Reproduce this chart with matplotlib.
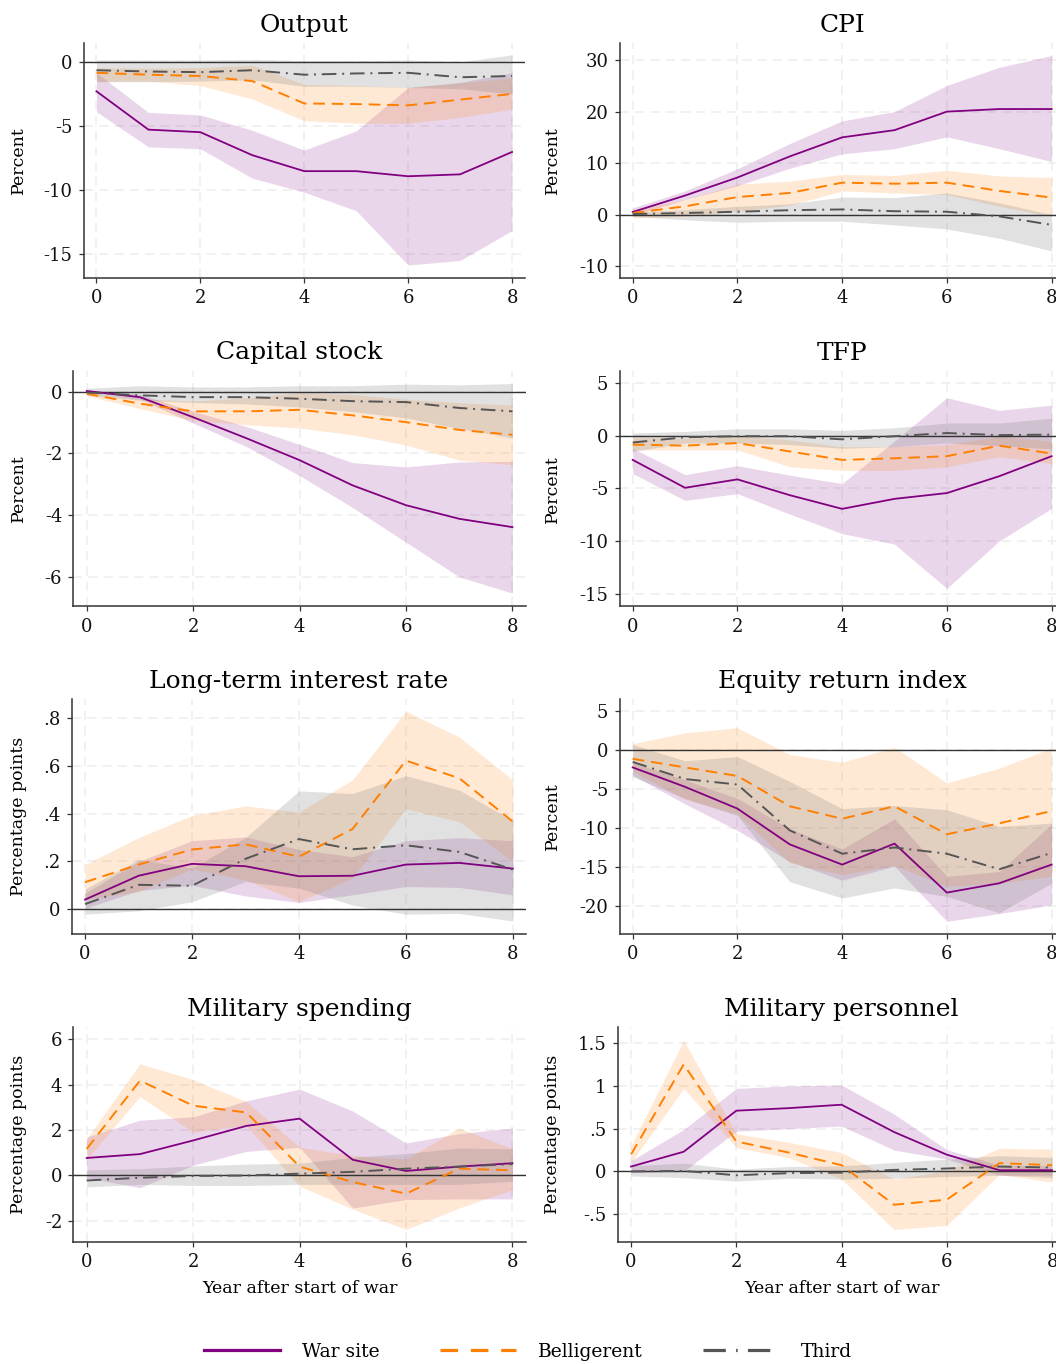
import numpy as np
import matplotlib.pyplot as plt
from matplotlib.lines import Line2D

plt.rcParams["font.family"] = ["DejaVu Serif"]

years = [0, 1, 2, 3, 4, 5, 6, 7, 8]
xticks = [0, 2, 4, 6, 8]
series_names = ["War site", "Belligerent", "Third"]

# Output
output_war = [-2.3, -5.3, -5.5, -7.3, -8.55, -8.55, -8.95, -8.8, -7.05]
output_war_hi = [-0.85, -3.95, -4.15, -5.35, -6.9, -5.4, -2.0, -1.6, -0.85]
output_war_lo = [-3.9, -6.65, -6.8, -9.1, -10.2, -11.65, -15.9, -15.55, -13.2]
output_bel = [-0.85, -1.0, -1.1, -1.5, -3.25, -3.3, -3.4, -2.95, -2.5]
output_bel_hi = [-0.45, -0.5, -0.45, -0.25, -1.75, -1.85, -2.0, -1.65, -1.25]
output_bel_lo = [-1.5, -1.5, -1.85, -2.9, -4.6, -4.8, -4.8, -4.35, -3.7]
output_third = [-0.65, -0.75, -0.8, -0.65, -1.0, -0.9, -0.85, -1.2, -1.1]
output_third_hi = [0.15, 0.15, 0.15, 0.2, 0.1, 0.1, 0.15, 0.0, 0.55]
output_third_lo = [-1.55, -1.55, -1.5, -1.4, -1.9, -1.9, -2.0, -2.1, -2.5]
output_yticks = [-15, -10, -5, 0]
output_yticklabels = ["-15", "-10", "-5", "0"]

# CPI
cpi_war = [0.5, 3.7, 7.2, 11.3, 15.0, 16.4, 20.0, 20.5, 20.5]
cpi_war_hi = [1.3, 4.6, 8.9, 13.8, 18.2, 20.0, 25.1, 28.6, 30.9]
cpi_war_lo = [-0.15, 2.9, 5.6, 9.0, 11.8, 12.8, 15.1, 12.8, 10.3]
cpi_bel = [0.3, 1.6, 3.4, 4.2, 6.2, 6.0, 6.2, 4.6, 3.3]
cpi_bel_hi = [0.95, 2.9, 5.9, 6.5, 7.8, 7.6, 8.6, 7.5, 7.2]
cpi_bel_lo = [-0.65, -0.35, 0.65, 1.8, 4.6, 4.2, 3.9, 1.6, -0.35]
cpi_third = [0.1, 0.3, 0.55, 0.85, 1.0, 0.65, 0.55, -0.35, -2.0]
cpi_third_hi = [0.45, 0.95, 1.6, 2.1, 3.4, 3.3, 4.2, 2.3, 0.0]
cpi_third_lo = [-0.35, -1.0, -1.5, -1.3, -1.3, -2.0, -2.8, -4.6, -7.05]
cpi_yticks = [-10, 0, 10, 20, 30]
cpi_yticklabels = ["-10", "0", "10", "20", "30"]

# Capital stock
capital_war = [0.02, -0.18, -0.83, -1.51, -2.22, -3.04, -3.68, -4.12, -4.39]
capital_war_hi = [0.04, -0.09, -0.64, -1.13, -1.71, -2.3, -2.44, -2.28, -2.26]
capital_war_lo = [-0.01, -0.25, -1.02, -1.78, -2.72, -3.76, -4.88, -6.0, -6.53]
capital_bel = [-0.07, -0.39, -0.64, -0.64, -0.59, -0.77, -0.99, -1.24, -1.4]
capital_bel_hi = [-0.03, -0.23, -0.31, -0.2, -0.03, -0.09, -0.25, -0.36, -0.44]
capital_bel_lo = [-0.14, -0.55, -0.94, -1.07, -1.18, -1.4, -1.73, -2.22, -2.37]
capital_third = [-0.03, -0.12, -0.18, -0.18, -0.23, -0.31, -0.34, -0.53, -0.64]
capital_third_hi = [0.11, 0.19, 0.15, 0.15, 0.19, 0.19, 0.24, 0.22, 0.26]
capital_third_lo = [-0.12, -0.28, -0.35, -0.4, -0.5, -0.65, -0.85, -1.2, -1.5]
capital_yticks = [-6, -4, -2, 0]
capital_yticklabels = ["-6", "-4", "-2", "0"]

# TFP
tfp_war = [-2.3, -4.95, -4.15, -5.65, -6.95, -6.0, -5.45, -3.85, -1.95]
tfp_war_hi = [-1.2, -3.7, -2.85, -3.75, -4.55, -0.5, 3.6, 2.4, 2.9]
tfp_war_lo = [-3.6, -6.15, -5.5, -7.45, -9.3, -10.3, -14.5, -10.0, -6.9]
tfp_bel = [-0.85, -0.95, -0.7, -1.5, -2.3, -2.15, -1.95, -0.95, -1.7]
tfp_bel_hi = [-0.15, -0.25, -0.05, -0.4, -1.05, -1.05, -0.85, -0.05, -0.55]
tfp_bel_lo = [-1.35, -1.35, -1.35, -2.95, -3.3, -3.3, -2.95, -2.0, -2.65]
tfp_third = [-0.65, -0.15, -0.05, -0.05, -0.35, -0.05, 0.25, 0.05, 0.1]
tfp_third_hi = [0.25, 0.4, 0.65, 0.65, 0.5, 0.75, 1.2, 1.2, 1.65]
tfp_third_lo = [-1.5, -0.7, -0.7, -0.85, -1.2, -1.05, -0.7, -0.95, -1.25]
tfp_yticks = [-15, -10, -5, 0, 5]
tfp_yticklabels = ["-15", "-10", "-5", "0", "5"]

# Long-term interest rate
rate_war = [0.04, 0.14, 0.19, 0.18, 0.138, 0.14, 0.187, 0.194, 0.17]
rate_war_hi = [0.067, 0.2, 0.287, 0.303, 0.25, 0.22, 0.287, 0.3, 0.287]
rate_war_lo = [0.003, 0.078, 0.1, 0.055, 0.028, 0.06, 0.095, 0.091, 0.06]
rate_bel = [0.113, 0.187, 0.25, 0.272, 0.22, 0.336, 0.623, 0.549, 0.367]
rate_bel_hi = [0.187, 0.3, 0.393, 0.433, 0.407, 0.542, 0.83, 0.722, 0.542]
rate_bel_lo = [0.041, 0.074, 0.169, 0.123, 0.031, 0.13, 0.421, 0.367, 0.199]
rate_third = [0.021, 0.102, 0.098, 0.211, 0.294, 0.251, 0.268, 0.24, 0.166]
rate_third_hi = [0.084, 0.208, 0.173, 0.3, 0.496, 0.485, 0.56, 0.499, 0.372]
rate_third_lo = [-0.021, -0.007, 0.031, 0.116, 0.088, 0.017, -0.021, -0.018, -0.05]
rate_yticks = [0, 0.2, 0.4, 0.6, 0.8]
rate_yticklabels = ["0", ".2", ".4", ".6", ".8"]

# Equity return index
equity_war = [-2.2, -4.7, -7.5, -12.1, -14.7, -12.0, -18.3, -17.1, -14.7]
equity_war_hi = [-1.6, -3.8, -6.2, -10.1, -12.7, -8.8, -16.2, -15.6, -9.5]
equity_war_lo = [-3.2, -6.9, -10.3, -14.3, -16.7, -14.9, -22.0, -21.0, -19.9]
equity_bel = [-1.1, -2.2, -3.3, -7.2, -8.8, -7.2, -10.8, -9.4, -7.8]
equity_bel_hi = [0.85, 2.25, 2.9, -0.55, -1.55, 0.4, -4.2, -2.3, 0.3]
equity_bel_lo = [-2.7, -6.3, -8.2, -14.5, -16.0, -14.8, -17.5, -17.1, -16.2]
equity_third = [-1.5, -3.7, -4.4, -10.3, -13.3, -12.5, -13.3, -15.3, -13.2]
equity_third_hi = [0.75, -1.35, -0.8, -4.0, -7.5, -7.1, -7.65, -9.8, -9.35]
equity_third_lo = [-3.4, -6.2, -8.4, -16.9, -19.0, -17.7, -18.8, -20.9, -17.1]
equity_yticks = [-20, -15, -10, -5, 0, 5]
equity_yticklabels = ["-20", "-15", "-10", "-5", "0", "5"]

# Military spending
milspend_war = [0.77, 0.94, 1.54, 2.18, 2.5, 0.69, 0.2, 0.39, 0.54]
milspend_war_hi = [1.69, 2.43, 2.58, 3.28, 3.8, 2.83, 1.43, 1.84, 2.09]
milspend_war_lo = [-0.1, -0.54, 0.45, 1.06, 1.24, -1.43, -1.06, -1.03, -1.03]
milspend_bel = [1.17, 4.17, 3.07, 2.77, 0.39, -0.29, -0.8, 0.3, 0.23]
milspend_bel_hi = [1.61, 4.91, 4.22, 3.25, 1.24, 0.87, 0.72, 2.09, 1.17]
milspend_bel_lo = [0.72, 3.47, 1.91, 2.21, -0.47, -1.48, -2.37, -1.43, -0.62]
milspend_third = [-0.22, -0.1, -0.02, 0.0, 0.08, 0.16, 0.3, 0.39, 0.5]
milspend_third_hi = [0.25, 0.3, 0.42, 0.5, 0.54, 0.8, 0.97, 1.2, 1.17]
milspend_third_lo = [-0.5, -0.39, -0.44, -0.44, -0.39, -0.39, -0.39, -0.39, -0.25]
milspend_yticks = [-2, 0, 2, 4, 6]
milspend_yticklabels = ["-2", "0", "2", "4", "6"]

# Military personnel
milpers_war = [0.057, 0.23, 0.71, 0.74, 0.78, 0.46, 0.196, 0.014, 0.014]
milpers_war_hi = [0.125, 0.49, 0.97, 1.0, 1.01, 0.67, 0.255, 0.073, 0.065]
milpers_war_lo = [-0.014, 0.0, 0.47, 0.5, 0.53, 0.25, 0.144, -0.045, -0.045]
milpers_bel = [0.2, 1.25, 0.35, 0.22, 0.073, -0.39, -0.33, 0.097, 0.073]
milpers_bel_hi = [0.3, 1.53, 0.44, 0.34, 0.22, -0.09, 0.006, 0.27, 0.26]
milpers_bel_lo = [0.105, 0.97, 0.28, 0.16, -0.09, -0.68, -0.63, -0.034, -0.125]
milpers_third = [0.0, 0.006, -0.045, -0.02, -0.014, 0.018, 0.034, 0.057, 0.045]
milpers_third_hi = [0.065, 0.097, 0.026, 0.057, 0.065, 0.105, 0.144, 0.184, 0.164]
milpers_third_lo = [-0.053, -0.073, -0.113, -0.08, -0.09, -0.08, -0.06, -0.045, -0.073]
milpers_yticks = [-0.5, 0, 0.5, 1, 1.5]
milpers_yticklabels = ["-.5", "0", ".5", "1", "1.5"]

W, H = 1056, 1364
purple = "#800080"
orange = "#ff7f00"
dgray = "#555555"
line_styles = [
    dict(color=purple, lw=1.3, ls="-"),
    dict(color=orange, lw=1.4, dashes=(6, 3.5)),
    dict(color=dgray, lw=1.4, dashes=(7.5, 3, 1, 3)),
]
band_styles = [(purple, 0.16), (orange, 0.17), ("#777777", 0.22)]

# title, ylabel, xlabel?, box in px (left, top, right, bottom), ylim, ticks, series
panels = [
    ("Output", "Percent", False, (83.5, 42.9, 525, 278.2), (-16.93, 1.49),
     output_yticks, output_yticklabels,
     [(output_war, output_war_lo, output_war_hi),
      (output_bel, output_bel_lo, output_bel_hi),
      (output_third, output_third_lo, output_third_hi)]),
    ("CPI", "Percent", False, (619.6, 42.9, 1064.7, 278.2), (-12.36, 33.35),
     cpi_yticks, cpi_yticklabels,
     [(cpi_war, cpi_war_lo, cpi_war_hi),
      (cpi_bel, cpi_bel_lo, cpi_bel_hi),
      (cpi_third, cpi_third_lo, cpi_third_hi)]),
    ("Capital stock", "Percent", False, (73.4, 370.6, 525.8, 606.5), (-6.96, 0.68),
     capital_yticks, capital_yticklabels,
     [(capital_war, capital_war_lo, capital_war_hi),
      (capital_bel, capital_bel_lo, capital_bel_hi),
      (capital_third, capital_third_lo, capital_third_hi)]),
    ("TFP", "Percent", False, (619.6, 371.2, 1064.7, 606.5), (-16.22, 6.12),
     tfp_yticks, tfp_yticklabels,
     [(tfp_war, tfp_war_lo, tfp_war_hi),
      (tfp_bel, tfp_bel_lo, tfp_bel_hi),
      (tfp_third, tfp_third_lo, tfp_third_hi)]),
    ("Long-term interest rate", "Percentage points", False, (71.7, 698.9, 526.2, 933.8),
     (-0.1035, 0.882), rate_yticks, rate_yticklabels,
     [(rate_war, rate_war_lo, rate_war_hi),
      (rate_bel, rate_bel_lo, rate_bel_hi),
      (rate_third, rate_third_lo, rate_third_hi)]),
    ("Equity return index", "Percent", False, (619.6, 698.9, 1064.7, 933.8), (-23.6, 6.61),
     equity_yticks, equity_yticklabels,
     [(equity_war, equity_war_lo, equity_war_hi),
      (equity_bel, equity_bel_lo, equity_bel_hi),
      (equity_third, equity_third_lo, equity_third_hi)]),
    ("Military spending", "Percentage points", True, (73.4, 1027.2, 525.8, 1241.9),
     (-2.92, 6.52), milspend_yticks, milspend_yticklabels,
     [(milspend_war, milspend_war_lo, milspend_war_hi),
      (milspend_bel, milspend_bel_lo, milspend_bel_hi),
      (milspend_third, milspend_third_lo, milspend_third_hi)]),
    ("Military personnel", "Percentage points", True, (617.9, 1027.2, 1065.2, 1241.9),
     (-0.824, 1.686), milpers_yticks, milpers_yticklabels,
     [(milpers_war, milpers_war_lo, milpers_war_hi),
      (milpers_bel, milpers_bel_lo, milpers_bel_hi),
      (milpers_third, milpers_third_lo, milpers_third_hi)]),
]

fig = plt.figure(figsize=(W / 100, H / 100), dpi=100)

for i, (title, ylab, has_xlab, box, ylim, yt, ytl, series) in enumerate(panels):
    left, top, right, bottom = box
    w, h = right - left, bottom - top
    ax = fig.add_axes([left / W, 1 - bottom / H, w / W, h / H])

    for (est, lo, hi), (c, a) in zip(series, band_styles):
        ax.fill_between(years, lo, hi, color=c, alpha=a, lw=0, zorder=2)
    ax.axhline(0, color="#333333", lw=1.0, zorder=3)
    for (est, lo, hi), st in zip(series, line_styles):
        ax.plot(years, est, zorder=4, **st)

    ax.set_xlim(-0.25, 8.25)
    ax.set_ylim(*ylim)
    ax.set_xticks(xticks)
    ax.set_yticks(yt)
    ax.set_yticklabels(ytl)
    ax.grid(True, color="#ededed", lw=1.1, ls=(0, (6, 4)), zorder=0)
    ax.set_axisbelow(True)
    for s in ["top", "right"]:
        ax.spines[s].set_visible(False)
    for s in ["left", "bottom"]:
        ax.spines[s].set_color("#333333")
        ax.spines[s].set_linewidth(1.1)
    ax.tick_params(direction="out", length=3.6, width=0.9, color="#333333",
                   labelsize=13, pad=4.5, labelcolor="#111111")

    ax.set_title(title, fontsize=18, pad=8)
    ax.set_ylabel(ylab, fontsize=12.5)
    label_edge = 27 if left < 300 else 561
    ax.yaxis.set_label_coords((label_edge - left) / w, 0.5)
    if has_xlab:
        ax.set_xlabel("Year after start of war", fontsize=12.5)
        ax.xaxis.set_label_coords(0.5, -38 / h)

handles = [
    Line2D([], [], color=purple, lw=2.3),
    Line2D([], [], color=orange, lw=2.3, dashes=(5.5, 4)),
    Line2D([], [], color=dgray, lw=2.3, dashes=(7, 3.2, 0.5, 3.2)),
]
fig.legend(handles, series_names, loc="center", bbox_to_anchor=(528 / W, 12 / H),
           ncol=3, frameon=False, fontsize=13.5, handlelength=4.05,
           handletextpad=1.17, columnspacing=3.2)

fig.savefig("out.png", dpi=100)
